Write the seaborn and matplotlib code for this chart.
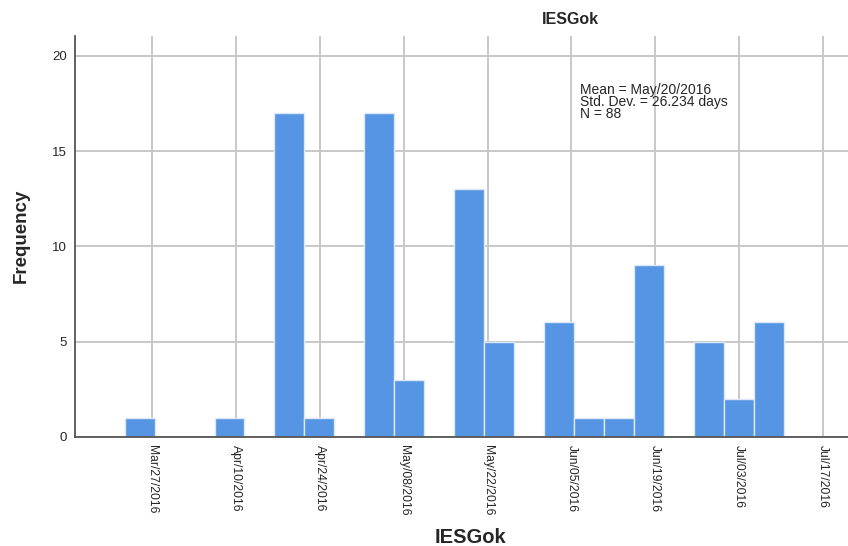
import numpy as np
import pandas as pd
import matplotlib
matplotlib.use("Agg")
import matplotlib.pyplot as plt
import matplotlib.dates as mdates
import seaborn as sns

# ----------------------------------------------------------
# DATA (histogram of IESGok, 5-day bins)
# ----------------------------------------------------------
first_edge = "2016-03-22 09:36"
bin_days = 5
counts = [1, 0, 0, 1, 0, 17, 1, 0, 17, 3, 0, 13, 5, 0, 6, 1, 1, 9, 0, 5, 2, 6]

tick_dates = ["2016-03-27", "2016-04-10", "2016-04-24", "2016-05-08", "2016-05-22",
              "2016-06-05", "2016-06-19", "2016-07-03", "2016-07-17"]
tick_labels = ["Mar/27/2016", "Apr/10/2016", "Apr/24/2016", "May/08/2016", "May/22/2016",
               "Jun/05/2016", "Jun/19/2016", "Jul/03/2016", "Jul/17/2016"]

stats_text = "Mean = May/20/2016\nStd. Dev. = 26.234 days\nN = 88"

# ----------------------------------------------------------
# PREP
# ----------------------------------------------------------
edges = pd.date_range(first_edge, periods=len(counts) + 1, freq=f"{bin_days}D")
edges_num = [float(v) for v in mdates.date2num(edges.to_pydatetime())]
mids = [(a + b) / 2 for a, b in zip(edges_num[:-1], edges_num[1:])]
df = pd.DataFrame({"date": mids, "count": counts})

ticks_num = mdates.date2num(pd.to_datetime(tick_dates).to_pydatetime())

# ----------------------------------------------------------
# PLOT
# ----------------------------------------------------------
sns.set_style("whitegrid")
plt.rcParams["font.family"] = ["Liberation Sans", "DejaVu Sans"]

fig = plt.figure(figsize=(8.48, 5.46), dpi=100)
ax = fig.add_axes([0.0884, 0.2002, 0.9316, 0.7339])

sns.histplot(data=df, x="date", weights="count", bins=edges_num, ax=ax,
             color="#5595E3", alpha=1, edgecolor="#dce8f8", linewidth=1)

ax.set_xlim(ticks_num[0] - 12.9, ticks_num[0] + 119)
ax.set_ylim(0, 21.05)
ax.set_yticks([0, 5, 10, 15, 20])
ax.set_xticks(ticks_num)
ax.set_xticklabels(tick_labels, rotation=-90, fontsize=8.7)
ax.tick_params(axis="y", labelsize=9.5, length=0, pad=6)
ax.tick_params(axis="x", length=0, pad=6)

ax.grid(True, color="#c8c8c8", linewidth=1.4)
ax.set_axisbelow(True)
for s in ["top", "right"]:
    ax.spines[s].set_visible(False)
for s in ["left", "bottom"]:
    ax.spines[s].set_color("#555555")
    ax.spines[s].set_linewidth(1.3)

ax.set_xlabel("IESGok", fontsize=14.5, fontweight="bold", labelpad=9)
ax.set_ylabel("Frequency", fontsize=13.5, fontweight="bold", labelpad=16)

fig.text(570 / 848, 1 - 19 / 546, "IESGok", fontsize=11.5, fontweight="bold",
         ha="center", va="center")
fig.text(580 / 848, 1 - 83 / 546, stats_text, fontsize=10, ha="left", va="top",
         linespacing=0.8)

plt.savefig("out.png", dpi=100)
